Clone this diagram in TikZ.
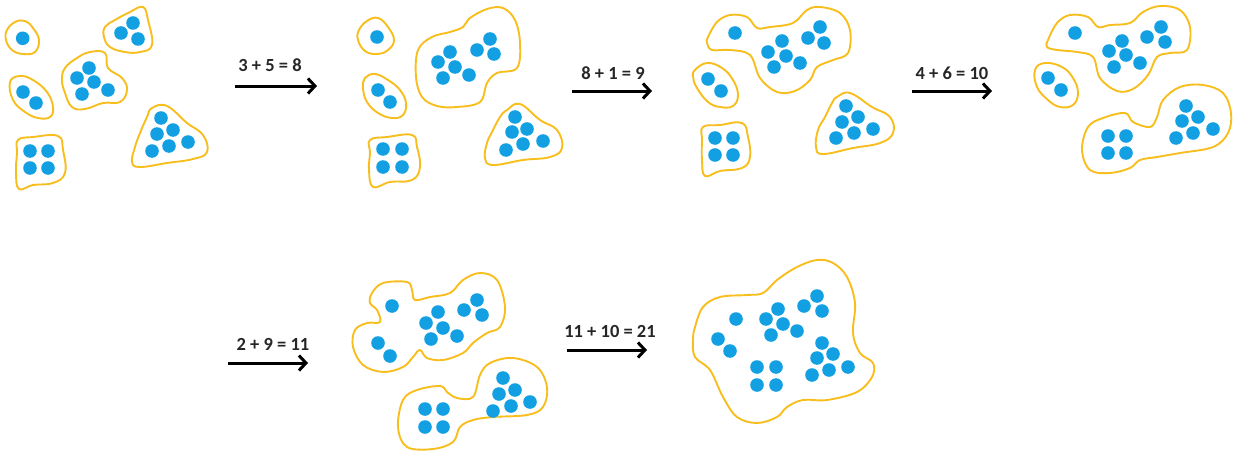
\documentclass[tikz,border=0pt]{standalone}
\usepackage{fontspec}
\setmainfont{Carlito}
\usepackage{tikz}
\usetikzlibrary{arrows.meta}
\definecolor{gold}{RGB}{247,190,30}
\definecolor{skyblue}{RGB}{18,160,226}

\begin{document}
\begin{tikzpicture}[x=1pt,y=-1pt,
    blob/.style={gold,line width=1.9pt,line join=round},
    bead/.style={skyblue},
    merge/.style={line width=3pt,-{Straight Barb[length=7pt,width=15pt,line width=3pt]}},
    sum/.style={font=\fontsize{18.5}{22}\selectfont\bfseries,text=black!85}]
    \useasboundingbox (0,0) rectangle (1233,452);
    % panel 1
    \draw[blob] plot[smooth cycle,tension=0.7] coordinates {(7,30)(15,22)(25,21)(33,28)(39,40)(35,52)(23,54)(12,50)(6,40)};
    \draw[blob] plot[smooth cycle,tension=0.7] coordinates {(10,82)(20,76)(33,80)(47,92)(53,107)(50,117)(38,118)(25,112)(13,100)};
    \draw[blob] plot[smooth cycle,tension=0.7] coordinates {(105,27)(115,20)(130,12)(143,7)(148,20)(152,45)(140,52)(125,52)(110,47)(104,37)};
    \draw[blob] plot[smooth cycle,tension=0.7] coordinates {(65,68)(77,58)(90,52)(105,53)(108,68)(122,78)(127,90)(120,102)(103,103)(85,109)(72,107)(65,93)(62,80)};
    \draw[blob] plot[smooth cycle,tension=0.7] coordinates {(18,140)(33,137)(58,136)(63,150)(65,173)(53,183)(33,185)(19,189)(16,173)(17,153)};
    \draw[blob] plot[smooth cycle,tension=0.7] coordinates {(152,108)(167,106)(187,123)(203,135)(207,152)(193,159)(167,163)(140,167)(132,162)(135,147)(140,133)(147,117)};
    \foreach \x/\y in {22.7/38.3, 23/92,36/103, 133/23,121/33,138/39,
        89/68,77/78,94/82,82/94,108/90, 30/151,48/151,30/168,48/168,
        161/118,157/134,173/130,152/151,169/146,188/142}
        \fill[bead] (\x,\y) circle[radius=6.8pt];
    % panel 2
    \draw[blob] plot[smooth cycle,tension=0.7] coordinates {(359,30)(367,21)(378,18)(388,27)(394,40)(388,50)(377,54)(365,51)(358,40)};
    \draw[blob] plot[smooth cycle,tension=0.7] coordinates {(365,78)(375,74)(388,80)(400,90)(406,103)(403,115)(392,118)(378,113)(367,102)(363,88)};
    \draw[blob] plot[smooth cycle,tension=0.7] coordinates {(370,140)(387,137)(412,135)(417,147)(420,167)(412,180)(390,182)(373,187)(369,170)(370,153)};
    \draw[blob] plot[smooth cycle,tension=0.6] coordinates {(418,50)(432,37)(450,32)(463,27)(470,18)(487,9)(503,8)(515,20)(520,43)(517,68)(497,73)(487,83)(480,102)(457,107)(437,106)(422,97)(416,77)};
    \draw[blob] plot[smooth cycle,tension=0.7] coordinates {(507,110)(520,104)(540,120)(557,130)(562,148)(550,157)(523,160)(493,165)(485,158)(487,143)(492,132)(500,117)};
    \foreach \x/\y in {377/37, 378/90,390/102, 383/149,402/149,383/167,402/167,
        450/52,438/62,455/67,443/78,469/75, 490/39,477/50,494/54,
        515/117,512/132,527/129,506/150,523/144,543/141}
        \fill[bead] (\x,\y) circle[radius=6.8pt];
    % panel 3
    \draw[blob] plot[smooth cycle,tension=0.6] coordinates {(708,37)(717,22)(730,15)(747,17)(757,28)(770,27)(793,23)(807,10)(820,7)(840,13)(850,30)(848,53)(833,60)(817,67)(810,80)(795,91)(777,92)(760,78)(750,55)(730,50)(712,50)(707,43)};
    \draw[blob] plot[smooth cycle,tension=0.7] coordinates {(695,70)(707,63)(722,68)(733,80)(738,95)(733,106)(720,107)(708,102)(697,88)(693,77)};
    \draw[blob] plot[smooth cycle,tension=0.7] coordinates {(703,127)(720,125)(742,123)(748,137)(750,157)(742,168)(720,171)(705,176)(702,160)(702,140)};
    \draw[blob] plot[smooth cycle,tension=0.7] coordinates {(837,97)(850,93)(872,107)(890,117)(893,133)(880,143)(853,148)(823,154)(816,147)(818,130)(825,117)(832,103)};
    \foreach \x/\y in {735/33, 782/41,768/52,786/56,774/67,800/63, 820/27,808/38,824/43,
        708/79,721/91, 715/138,733/138,715/155,733/155,
        846/106,842/122,858/117,836/138,854/133,873/129}
        \fill[bead] (\x,\y) circle[radius=6.8pt];
    % panel 4
    \draw[blob] plot[smooth cycle,tension=0.6] coordinates {(1048,40)(1057,23)(1070,15)(1088,17)(1098,27)(1110,25)(1130,23)(1143,12)(1160,6)(1180,10)(1190,27)(1187,50)(1170,53)(1157,57)(1148,75)(1133,89)(1117,91)(1100,78)(1093,57)(1077,52)(1057,50)(1047,47)};
    \draw[blob] plot[smooth cycle,tension=0.7] coordinates {(1035,70)(1045,63)(1062,67)(1073,78)(1078,93)(1073,105)(1060,107)(1048,100)(1037,87)};
    \draw[blob] plot[smooth cycle,tension=0.6] coordinates {(1088,127)(1103,118)(1125,113)(1133,122)(1150,127)(1157,117)(1163,100)(1180,87)(1203,85)(1223,93)(1231,113)(1228,133)(1213,147)(1180,153)(1157,157)(1140,160)(1130,168)(1110,173)(1090,170)(1082,150)};
    \foreach \x/\y in {1075/33, 1122/41,1109/51,1126/55,1114/67,1140/63, 1161/27,1147/37,1165/42,
        1048/78,1061/90, 1108/136,1126/136,1108/153,1126/153,
        1186/106,1182/121,1198/117,1176/138,1193/133,1213/129}
        \fill[bead] (\x,\y) circle[radius=6.8pt];
    % panel 5
    \draw[blob] plot[smooth cycle,tension=0.6] coordinates {(372,293)(383,283)(407,282)(412,290)(415,300)(430,297)(450,293)(463,280)(480,273)(497,280)(505,307)(500,327)(487,333)(473,343)(463,353)(443,360)(427,358)(420,350)(413,357)(403,367)(383,372)(363,365)(353,347)(355,330)(367,323)(380,322)(377,310)(370,303)};
    \draw[blob] plot[smooth cycle,tension=0.6] coordinates {(403,400)(417,390)(440,386)(447,392)(457,398)(473,397)(480,375)(490,363)(513,358)(537,367)(547,387)(543,407)(527,415)(493,417)(473,420)(460,427)(453,442)(433,449)(407,447)(398,427)};
    \foreach \x/\y in {392/306, 378/343,390/356, 438/312,426/323,443/328,431/339,457/336,
        477/300,464/310,482/315, 425/409,443/409,425/427,443/427,
        503/378,499/394,515/390,493/411,511/406,530/402}
        \fill[bead] (\x,\y) circle[radius=6.8pt];
    % panel 6
    \draw[blob] plot[smooth cycle,tension=0.6] coordinates {(695,327)(703,307)(720,297)(747,295)(763,293)(777,280)(797,267)(817,260)(833,263)(847,277)(855,303)(853,333)(860,353)(873,363)(872,377)(857,392)(827,400)(803,400)(787,407)(777,417)(757,423)(737,417)(723,397)(710,370)(695,357)(693,340)};
    \foreach \x/\y in {736/319, 718/339,730/351, 778/309,766/319,783/324,771/335,797/331,
        817/296,804/306,822/311, 757/367,776/367,757/385,776/385,
        822/343,817/358,833/354,812/375,829/370,848/367}
        \fill[bead] (\x,\y) circle[radius=6.8pt];
    % arrows
    \coordinate (s1) at (235,86);  \coordinate (e1) at (317,86);
    \coordinate (s2) at (572,91);  \coordinate (e2) at (652,91);
    \coordinate (s3) at (912,91);  \coordinate (e3) at (992,91);
    \coordinate (s4) at (228,363); \coordinate (e4) at (308,363);
    \coordinate (s5) at (567,350); \coordinate (e5) at (647,350);
    \draw[merge] (s1) -- (e1);
    \draw[merge] (s2) -- (e2);
    \draw[merge] (s3) -- (e3);
    \draw[merge] (s4) -- (e4);
    \draw[merge] (s5) -- (e5);
    \node[sum] (sumA) at (270,65) {3 + 5 = 8};
    \node[sum] (sumB) at (613,73) {8 + 1 = 9};
    \node[sum] (sumC) at (952,73) {4 + 6 = 10};
    \node[sum] (sumD) at (273,344) {2 + 9 = 11};
    \node[sum] (sumE) at (610,331) {11 + 10 = 21};
\end{tikzpicture}
\end{document}
